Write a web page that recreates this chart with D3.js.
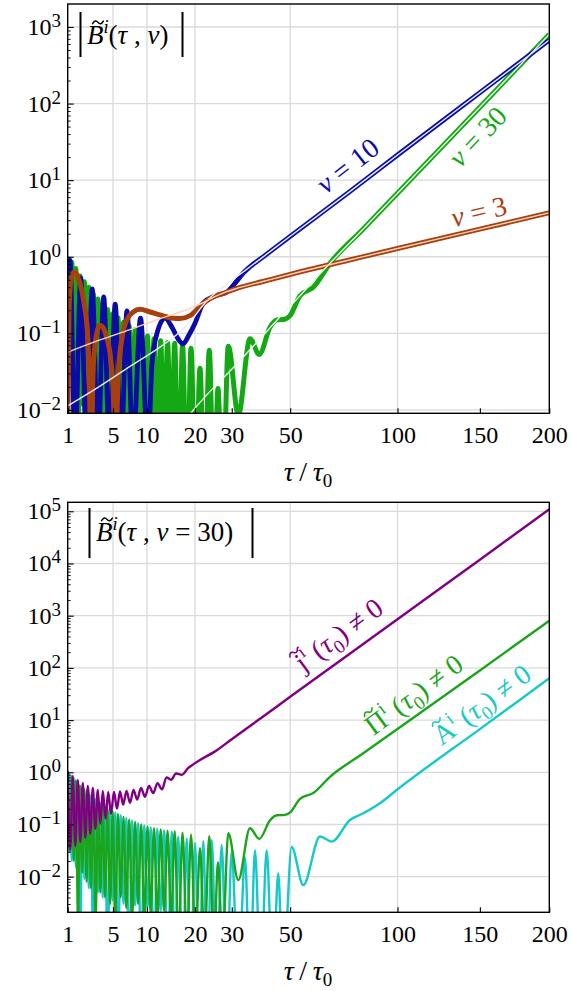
<!DOCTYPE html>
<html>
<head>
<meta charset="utf-8">
<script src="https://cdn.jsdelivr.net/npm/d3@7/dist/d3.min.js"></script>
<style>
  html, body { margin: 0; padding: 0; background: #fff; }
  svg { display: block; }
</style>
</head>
<body>
<svg id="chart" width="571" height="991" font-family="'Liberation Serif', 'Times New Roman', Times, serif"></svg>
<script>
// ---------------- data ----------------
const tauTicks = [1, 5, 10, 20, 30, 50, 100, 150, 200];
const tauGrid = [5, 10, 20, 50, 100];
const topDecades = [-2, -1, 0, 1, 2, 3];
const bottomDecades = [-2, -1, 0, 1, 2, 3, 4, 5];

// |B(tau, nu=3)|: full solution and its smooth approximation
const nu3Early = [[1.0,0.004],[1.072,0.2],[1.188,0.5],[1.373,0.63],[1.572,0.58],[1.784,0.45],[2.087,0.25],[2.414,0.08],[2.721,0.003],
  [2.857,0.03],[3.045,0.07],[3.287,0.11],[3.539,0.128],[3.854,0.12],[4.238,0.09],[4.641,0.055],[5.0,0.02],[5.309,0.003],
  [5.667,0.03],[6.118,0.082],[6.811,0.149],[7.783,0.19],[8.84,0.206],[10.54,0.19],[12.38,0.174],[15.07,0.157],[16.52,0.156],
  [18.81,0.17],[22.09,0.246],[24.73,0.30],[27.52,0.333]];
const nu3ApproxEarly = [[1.0,0.0567],[3.54,0.082],[7.29,0.112],[12.38,0.155],[16.52,0.19],[21.25,0.24],[24.9,0.298],[28.5,0.35]];
const nu3Late = [[31.49,0.386],[40,0.475],[54,0.637],[75,0.90],[100,1.28],[150,2.29],[200,3.75]];

// |B(tau, nu=10)|
const nu10Early = [[1.0,0.85],[1.129,0.9],[1.438,0.003],[1.835,0.53],[2.289,0.003],[2.784,0.38],[3.337,0.003],[3.929,0.30],
  [4.582,0.003],[5.272,0.24],[6.024,0.003],[6.854,0.196],[7.738,0.003],[8.918,0.158],[10.18,0.003],[10.89,0.04],[11.81,0.1],
  [13.36,0.158],[14.79,0.12],[16.08,0.085],[17.19,0.073],[18.57,0.095],[20.02,0.135],[22.09,0.25],[24.73,0.30],[26.5,0.322],
  [28.5,0.345],[31.5,0.48],[33.5,0.61]];
const nu10ApproxEarly = [[1.0,0.0113],[3.54,0.0205],[7.29,0.037],[12.38,0.066],[16.52,0.105],[20.02,0.17],[22.09,0.235],
  [24.73,0.32],[28.5,0.435],[32,0.568]];
const nu10Late = [[35.7,0.74],[40,0.99],[50,1.85],[75,6.87],[100,21.3],[150,139],[200,675]];

// |B(tau, nu=30)| with Pi(tau0) != 0 (shown in both panels)
const nu30Early = [[1.0,1.0],[1.112,0.03],[1.236,0.85],[1.361,0.02],[1.4975,0.70],[1.641,0.0015],[1.791,0.56],[1.948,0.012],
  [2.119,0.47],[2.297,0.008],[2.483,0.40],[2.676,0.006],[2.885,0.33],[3.102,0.0015],[3.327,0.28],[3.570,0.005],[3.822,0.24],
  [4.082,0.004],[4.363,0.205],[4.652,0.003],[4.963,0.18],[5.284,0.0015],[5.628,0.16],[5.983,0.004],[6.363,0.14],[6.754,0.0025],
  [7.172,0.125],[7.602,0.0015],[8.060,0.112],[8.532,0.003],[9.033,0.10],[9.548,0.0015],[10.096,0.092],[10.658,0.002],
  [11.254,0.085],[11.866,0.0015],[12.514,0.08],[13.179,0.0022],[13.881,0.076],[14.602,0.0015],[15.362,0.074],[16.19,0.0005],
  [17.08,0.07],[18.11,0.0005],[19.05,0.064],[20.13,0.0005],[21.25,0.035],[22.40,0.0005],[23.65,0.06],[24.92,0.0005],
  [26.02,0.019],[27.29,0.0005],[28.97,0.068],[31.98,0.0086],[35.69,0.085],[38.79,0.053],[42.51,0.12],[45.0,0.15],[48.0,0.153],
  [49.93,0.17],[53.87,0.31],[59.31,0.40]];
const nu30ApproxEarly = [[17,0.0065],[20,0.0105],[25,0.02],[30,0.034],[35,0.057],[40,0.093],[45,0.148],[50,0.225],[53.87,0.31],[59.31,0.48]];
const nu30Late = [[66.54,0.82],[82.18,2.31],[100,6.75],[150,89.5],[200,800]];

// |B(tau, nu=30)| with j(tau0) != 0
const jSeries = [[1.0,1.059],[1.147,0.0324],[1.298,0.849],[1.458,0.0387],[1.627,0.712],[1.806,0.0463],[1.994,0.624],
  [2.191,0.0554],[2.398,0.548],[2.614,0.0663],[2.839,0.50],[3.073,0.0829],[3.317,0.458],[3.570,0.104],[3.833,0.438],
  [4.127,0.128],[4.431,0.419],[4.759,0.161],[5.123,0.419],[5.500,0.201],[5.890,0.43],[6.322,0.24],[6.783,0.44],[7.289,0.26],
  [7.814,0.46],[8.389,0.30],[9.0,0.50],[9.667,0.34],[10.357,0.55],[11.108,0.40],[11.904,0.62],[12.766,0.47],[13.659,0.80],
  [14.623,0.72],[15.642,0.95],[16.964,0.90],[18.339,1.2],[19.768,1.45],[21.25,1.72],[25,2.46],[30,4.31],[40,11.6],[50,27.9],
  [75,178],[100,855],[150,11800],[200,109000]];

// |B(tau, nu=30)| with A(tau0) != 0
const aSeries = [[1.0,0.85],[1.112,0.93],[1.236,0.02],[1.361,0.78],[1.4975,0.015],[1.641,0.64],[1.791,0.0001],[1.948,0.52],
  [2.119,0.009],[2.297,0.44],[2.483,0.006],[2.676,0.37],[2.885,0.0001],[3.102,0.31],[3.327,0.005],[3.570,0.26],[3.822,0.004],
  [4.082,0.22],[4.363,0.0001],[4.652,0.19],[4.963,0.0035],[5.284,0.17],[5.628,0.0001],[5.983,0.15],[6.363,0.003],[6.754,0.133],
  [7.172,0.0001],[7.602,0.118],[8.060,0.0028],[8.532,0.106],[9.033,0.0001],[9.548,0.096],[10.096,0.0025],[10.658,0.088],
  [11.254,0.0001],[11.866,0.082],[12.514,0.0022],[13.179,0.077],[13.881,0.0001],[14.73,0.073],[15.43,0.0001],[16.14,0.058],
  [17.12,0.0001],[18.04,0.054],[18.98,0.0001],[20.02,0.044],[21.07,0.0001],[22.09,0.048],[23.13,0.0001],[24.30,0.05],
  [25.66,0.0001],[27.06,0.04],[28.50,0.0001],[29.97,0.03],[31.98,0.0001],[34.08,0.023],[35.70,0.0001],[37.34,0.032],
  [39.26,0.0001],[41.34,0.032],[43.47,0.0001],[45.51,0.0115],[47.26,0.0001],[50.58,0.037],[55.18,0.0069],[62.16,0.0587],
  [67.29,0.047],[75.74,0.122],[82.18,0.164],[90.65,0.255],[99.54,0.458],[150,6.72],[200,63.2]];

// ---------------- drawing ----------------
const FONT = "'Liberation Serif', 'Times New Roman', Times, serif";
const svg = d3.select("#chart");
const X0 = 67.7, X1 = 549.3;
const x = d3.scalePow().exponent(0.5).domain([1, 200]).range([X0, X1]);

const C = {
  brown: "#a8400e", peach: "#fcd2b9",
  blue: "#0b0ba6", paleBlue: "#e3ecff",
  green: "#14a814", paleGreen: "#e4fbe4",
  purple: "#810081", cyan: "#16c9c9", green2: "#1ca51c"
};

const line = (y) => d3.line().x(d => x(d[0])).y(d => y(d[1])).curve(d3.curveMonotoneX);

function drawPanel(cfg) {
  const y = d3.scaleLog().domain([Math.pow(10, cfg.logMin), Math.pow(10, cfg.logMax)]).range([cfg.bottom, cfg.top]);
  const g = svg.append("g").attr("font-family", FONT);

  // grid
  g.append("g").selectAll("line").data(cfg.decades).join("line")
    .attr("x1", X0).attr("x2", X1).attr("y1", d => y(10 ** d)).attr("y2", d => y(10 ** d))
    .attr("stroke", "#dadada").attr("stroke-width", 1.3);
  g.append("g").selectAll("line").data(tauGrid).join("line")
    .attr("x1", d => x(d)).attr("x2", d => x(d)).attr("y1", cfg.top).attr("y2", cfg.bottom)
    .attr("stroke", "#dadada").attr("stroke-width", 1.3);

  // curves
  svg.append("clipPath").attr("id", "clip" + cfg.id).append("rect")
    .attr("x", X0).attr("y", cfg.top).attr("width", X1 - X0).attr("height", cfg.bottom - cfg.top);
  const plot = g.append("g").attr("clip-path", `url(#clip${cfg.id})`);
  cfg.series.forEach(s => {
    plot.append("path").attr("d", line(y)(s.data)).attr("fill", "none")
      .attr("stroke", s.color).attr("stroke-width", s.width)
      .attr("stroke-linejoin", "round");
  });

  // x axis (inward ticks)
  g.append("g").attr("transform", `translate(0,${cfg.bottom})`)
    .call(d3.axisBottom(x).tickValues(tauTicks).tickSize(-5).tickPadding(13).tickFormat(d3.format("d")))
    .call(a => {
      a.select(".domain").remove();
      a.attr("font-size", 24).attr("font-family", FONT);
      a.selectAll("line").attr("stroke", "#000").attr("stroke-width", 1.1);
    });

  // y axis: major and minor inward ticks
  const minors = [];
  for (let d = Math.floor(cfg.logMin); d <= Math.ceil(cfg.logMax); d++)
    for (let k = 2; k <= 9; k++) {
      const v = k * 10 ** d;
      if (Math.log10(v) > cfg.logMin && Math.log10(v) < cfg.logMax) minors.push(v);
    }
  g.append("g").attr("transform", `translate(${X0},0)`)
    .call(d3.axisLeft(y).tickValues(cfg.decades.map(d => 10 ** d)).tickSize(-6).tickFormat(""))
    .call(a => { a.select(".domain").remove(); a.selectAll("line").attr("stroke", "#000").attr("stroke-width", 1.1); });
  g.append("g").attr("transform", `translate(${X0},0)`)
    .call(d3.axisLeft(y).tickValues(minors).tickSize(-3).tickFormat(""))
    .call(a => { a.select(".domain").remove(); a.selectAll("line").attr("stroke", "#000").attr("stroke-width", 0.9); });

  // y tick labels 10^n
  cfg.decades.forEach(d => {
    const t = g.append("text").attr("x", 61).attr("y", y(10 ** d) + 8)
      .attr("text-anchor", "end").attr("font-size", 24).attr("fill", "#000");
    t.append("tspan").text("10");
    t.append("tspan").attr("dy", -8).attr("font-size", 19)
      .text(d < 0 ? "\u2212" + (-d) : String(d));
  });

  // frame
  g.append("rect").attr("x", X0).attr("y", cfg.top).attr("width", X1 - X0).attr("height", cfg.bottom - cfg.top)
    .attr("fill", "none").attr("stroke", "#000").attr("stroke-width", 1.4);

  // axis title tau/tau0
  const tt = g.append("text").attr("x", 308).attr("y", cfg.titleY).attr("text-anchor", "middle").attr("font-size", 28);
  tt.append("tspan").attr("font-style", "italic").text("\u03c4");
  tt.append("tspan").text("\u2009/\u2009");
  tt.append("tspan").attr("font-style", "italic").text("\u03c4");
  tt.append("tspan").attr("dy", 6).attr("font-size", 19).text("0");
  return { g, y };
}

// small wave drawn as a tilde accent
function tilde(parent, cx, cy, w, color, sw) {
  const a = w * 0.12, x0 = cx - w / 2;
  parent.append("path")
    .attr("d", `M${x0},${cy + a} Q${x0 + w / 4},${cy - 2.6 * a} ${cx},${cy} T${x0 + w},${cy - a}`)
    .attr("fill", "none").attr("stroke", color).attr("stroke-width", sw).attr("stroke-linecap", "round");
}

// text made of pieces: italic, superscript, subscript, and a tilde accent
function richText(parent, pieces, size, color, opts = {}) {
  const text = parent.append("text").attr("font-size", size).attr("fill", color).attr("y", opts.y || 0);
  let shift = 0, count = 0;
  const accents = [];
  pieces.forEach(p => {
    const ts = text.append("tspan").text(p.t);
    if (p.it) ts.attr("font-style", "italic");
    const target = p.sup ? -0.42 * size : p.sub ? 0.24 * size : 0;
    if (p.sup || p.sub) ts.attr("font-size", 0.68 * size);
    if (target - shift !== 0) ts.attr("dy", target - shift);
    shift = target;
    if (p.tilde) accents.push({ i: count, it: p.it, h: p.tildeH || 0.8 });
    count += p.t.length;
  });
  const node = text.node();
  if (opts.center) text.attr("x", -node.getComputedTextLength() / 2);
  else text.attr("x", opts.x || 0);
  accents.forEach(a => {
    const s = node.getStartPositionOfChar(a.i), e = node.getEndPositionOfChar(a.i);
    tilde(parent, (s.x + e.x) / 2 + (a.it ? 0.1 * size : 0), s.y - a.h * size, 0.4 * size, color, 0.055 * size);
  });
  return text;
}

function rotatedLabel(parent, cx, cy, angle, pieces, size, color) {
  const g = parent.append("g").attr("transform", `translate(${cx},${cy}) rotate(${angle})`);
  richText(g, pieces, size, color, { center: true, y: 0.32 * size });
}

// ---------- top panel ----------
const nu3Exact = nu3Early.concat(nu3Late), nu3Approx = nu3ApproxEarly.concat(nu3Late);
const nu10Exact = nu10Early.concat(nu10Late), nu10Approx = nu10ApproxEarly.concat(nu10Late);
const nu30Exact = nu30Early.concat(nu30Late), nu30Approx = nu30ApproxEarly.concat(nu30Late);

const topPanel = drawPanel({
  id: "top", top: 4, bottom: 413.3, logMin: -2.044, logMax: 3.30, decades: topDecades, titleY: 481,
  series: [
    { data: nu30Exact, color: C.green, width: 5 },
    { data: nu10Exact, color: C.blue, width: 4.8 },
    { data: nu3Exact, color: C.brown, width: 5 },
    { data: nu30Approx, color: C.paleGreen, width: 1.4 },
    { data: nu10Approx, color: C.paleBlue, width: 1.4 },
    { data: nu3Approx, color: C.peach, width: 1.4 }
  ]
});

// panel caption |B^i(tau, nu)|
const capTop = topPanel.g.append("g");
capTop.append("line").attr("x1", 80.5).attr("x2", 80.5).attr("y1", 12).attr("y2", 57).attr("stroke", "#000").attr("stroke-width", 2);
capTop.append("line").attr("x1", 182.5).attr("x2", 182.5).attr("y1", 12).attr("y2", 57).attr("stroke", "#000").attr("stroke-width", 2);
richText(capTop, [
  { t: "B", it: true, tilde: true }, { t: "i", it: true, sup: true }, { t: "(" }, { t: "\u03c4", it: true },
  { t: " , " }, { t: "\u03bd", it: true }, { t: ")" }
], 27, "#000", { x: 87, y: 44 });

rotatedLabel(topPanel.g, 348, 166, -38, [{ t: "\u03bd", it: true }, { t: " = 10" }], 28, C.blue);
rotatedLabel(topPanel.g, 478, 137, -46.5, [{ t: "\u03bd", it: true }, { t: " = 30" }], 28, C.green);
rotatedLabel(topPanel.g, 479, 212, -13.5, [{ t: "\u03bd", it: true }, { t: " = 3" }], 28, C.brown);

// ---------- bottom panel ----------
const bottomPanel = drawPanel({
  id: "bot", top: 502.3, bottom: 912.3, logMin: -2.682, logMax: 5.172, decades: bottomDecades, titleY: 980,
  series: [
    { data: aSeries, color: C.cyan, width: 2.4 },
    { data: nu30Exact, color: C.green2, width: 2.4 },
    { data: jSeries, color: C.purple, width: 2.4 }
  ]
});

const capBot = bottomPanel.g.append("g");
capBot.append("line").attr("x1", 89.5).attr("x2", 89.5).attr("y1", 508).attr("y2", 558).attr("stroke", "#000").attr("stroke-width", 2);
capBot.append("line").attr("x1", 252.5).attr("x2", 252.5).attr("y1", 508).attr("y2", 558).attr("stroke", "#000").attr("stroke-width", 2);
richText(capBot, [
  { t: "B", it: true, tilde: true }, { t: "i", it: true, sup: true }, { t: "(" }, { t: "\u03c4", it: true },
  { t: " , " }, { t: "\u03bd", it: true }, { t: " = 30)" }
], 27, "#000", { x: 96, y: 541 });

const tail = [{ t: " (" }, { t: "\u03c4", it: true }, { t: "0", sub: true }, { t: ") \u2260 0" }];
rotatedLabel(bottomPanel.g, 339, 635, -36.5, [{ t: "j", tilde: true, tildeH: 0.78 }, { t: "i", sup: true }].concat(tail), 28, C.purple);
rotatedLabel(bottomPanel.g, 414, 695, -36.5, [{ t: "\u03a0", tilde: true }, { t: "i", sup: true }].concat(tail), 28, C.green2);
rotatedLabel(bottomPanel.g, 482, 705, -36.5, [{ t: "A", tilde: true }, { t: "i", sup: true }].concat(tail), 28, C.cyan);
</script>
</body>
</html>
